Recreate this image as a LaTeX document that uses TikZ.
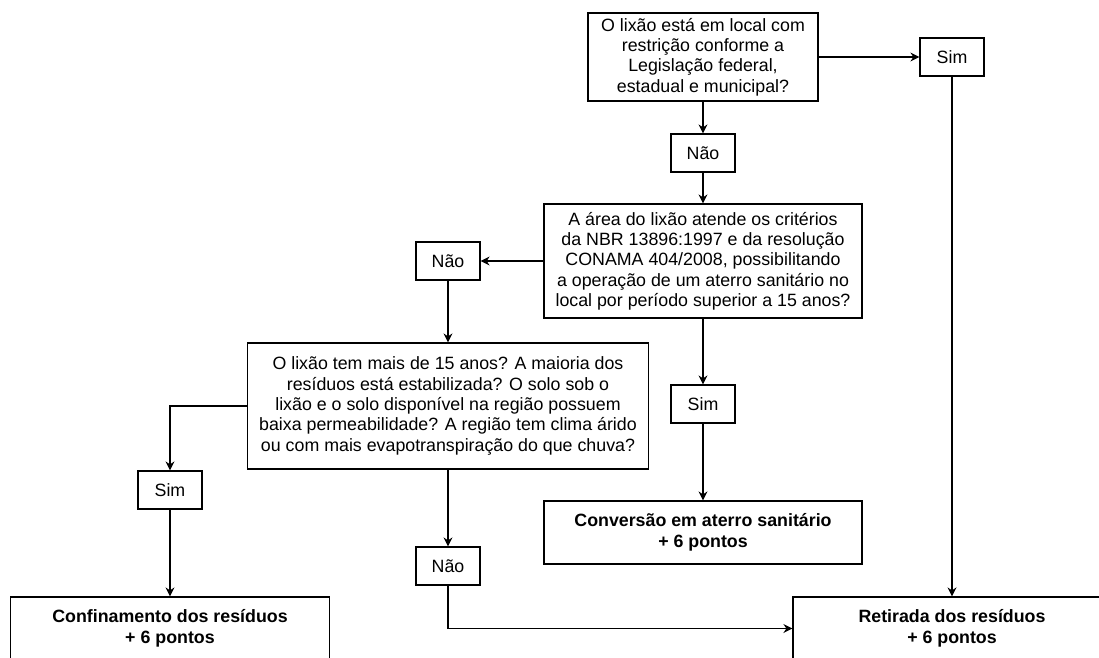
\documentclass[tikz,border=0pt]{standalone}
\usepackage{fontspec}
\setmainfont{Liberation Sans}
\usepackage{tikz}
\usetikzlibrary{arrows.meta,positioning}

\begin{document}
\begin{tikzpicture}[
        x=1pt, y=-1pt,
        box/.style={draw=black, line width=1.2pt, fill=white, align=center, inner sep=0pt, font=\fontsize{17.8}{20.3}\selectfont},
        small/.style={box, minimum width=64pt, minimum height=38pt},
        result/.style={box, minimum width=318pt, minimum height=63pt, font=\fontsize{17.8}{21.5}\selectfont\bfseries},
        edge/.style={line width=1.2pt, -{Stealth[length=9pt,width=9pt]}}
    ]
        \path[use as bounding box, clip] (0,0) rectangle (1099,657);

        % Question nodes
        \node[box, minimum width=230pt, minimum height=88pt] (lixao) at (703,57)
            {O lixão está em local com\\restrição conforme a\\Legislação federal,\\estadual e municipal?};
        \node[box, minimum width=318pt, minimum height=114pt] (area) at (703,261)
            {A área do lixão atende os critérios\\da NBR 13896:1997 e da resolução\\CONAMA 404/2008, possibilitando\\a operação de um aterro sanitário no\\local por período superior a 15 anos?};
        \node[box, minimum width=401pt, minimum height=126pt] (tempo) at (448,406)
            {O lixão tem mais de 15 anos? A maioria dos\\resíduos está estabilizada? O solo sob o\\lixão e o solo disponível na região possuem\\baixa permeabilidade? A região tem clima árido\\ou com mais evapotranspiração do que chuva?};

        % Answer nodes
        \node[small] (simA) at (952,57) {Sim};
        \node[small] (naoA) at (703,153) {Não};
        \node[small] (naoB) at (448,261) {Não};
        \node[small] (simB) at (703,404) {Sim};
        \node[small] (simC) at (170,490) {Sim};
        \node[small] (naoC) at (448,566) {Não};

        % Result nodes
        \node[result] (conversao) at (703,532.5) {Conversão em aterro sanitário\\+ 6 pontos};
        \node[result, minimum width=319pt] (confinamento) at (170,628.5) {Confinamento dos resíduos\\+ 6 pontos};
        \node[result] (retirada) at (952,628.5) {Retirada dos resíduos\\+ 6 pontos};

        % Edges
        \draw[edge] (lixao) -- (naoA);
        \draw[edge] (naoA) -- (area);
        \draw[edge] (lixao) -- (simA);
        \draw[edge] (simA) -- (retirada);
        \draw[edge] (area) -- (naoB);
        \draw[edge] (naoB) -- (tempo);
        \draw[edge] (area) -- (simB);
        \draw[edge] (simB) -- (conversao);
        \draw[edge] (tempo.west) -| (simC);
        \draw[edge] (simC) -- (confinamento);
        \draw[edge] (tempo) -- (naoC);
        \draw[edge] (naoC) |- (retirada.west);
    \end{tikzpicture}
\end{document}
